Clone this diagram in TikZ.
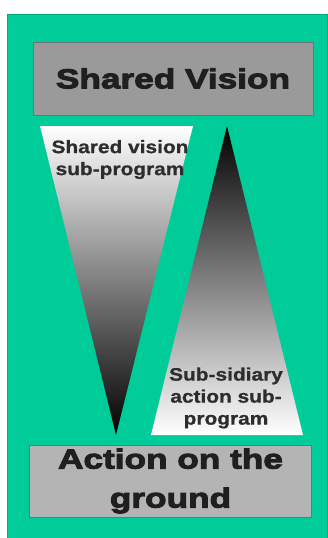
\documentclass[tikz,border=0pt]{standalone}
\usepackage{fontspec}
\setmainfont{Liberation Sans}
\newfontfamily\boxfont[FakeStretch=1.28,FakeBold=3.5]{Liberation Sans Bold}
\newfontfamily\labelfont[FakeStretch=1.16,FakeBold=0.9]{Liberation Sans Bold}
\usepackage{tikz}
\usetikzlibrary{positioning}

\definecolor{panelgreen}{RGB}{0,204,153}
\definecolor{edgegreen}{RGB}{0,170,125}
\definecolor{visiongray}{RGB}{154,154,154}
\definecolor{groundgray}{RGB}{180,180,180}
\definecolor{inkgray}{RGB}{45,45,45}

\tikzset{
  bigbox/.style={draw=black!55, line width=0.8pt, inner sep=0pt,
    font=\boxfont\fontsize{27.5}{39}\selectfont, text=black!88, align=center},
  sublabel/.style={font=\labelfont\fontsize{18}{22}\selectfont, text=inkgray,
    align=center, inner sep=0pt}
}

\begin{document}
\begin{tikzpicture}[x=1pt, y=-1pt]

    \useasboundingbox (0,0) rectangle (327,538);

    % --- Background panel ---
    \draw[fill=panelgreen, draw=edgegreen, line width=0.6pt] (7,14) rectangle (327,538);

    % --- Top and bottom boxes ---
    \node[bigbox, fill=visiongray, minimum width=280pt, minimum height=73pt] (vision) at (173,78.5) {Shared Vision};
    \node[bigbox, fill=groundgray, minimum width=282pt, minimum height=72pt] (ground) at (170.5,481) {Action on the\\ground};

    % --- Inverted triangle, light at the top ---
    \shade[top color=white, bottom color=black] (40,126) -- (193,126) -- (116,435) -- cycle;
    % --- Upright triangle, dark at the apex ---
    \shade[top color=black, bottom color=white] (227,126) -- (303,435) -- (151,435) -- cycle;

    % --- Labels inside the triangles ---
    \node[sublabel] (shared) at (120,159.5) {Shared vision\\sub-program};
    \node[sublabel] (subsid) at (226,398) {Sub-sidiary\\action sub-\\program};

\end{tikzpicture}
\end{document}
